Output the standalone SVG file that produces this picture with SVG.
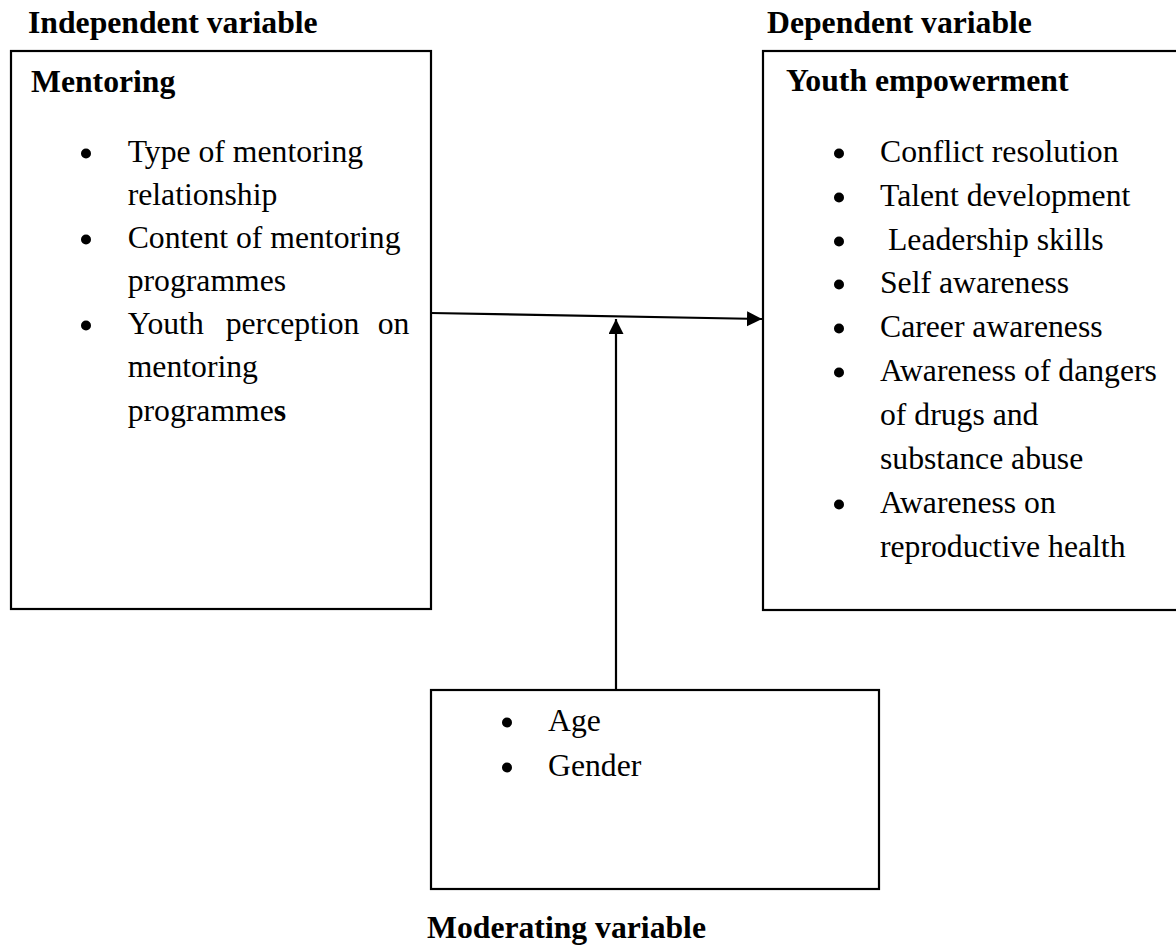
<svg xmlns="http://www.w3.org/2000/svg" width="1176" height="947" viewBox="0 0 1176 947">
<style>
  .t { font-family: "Liberation Serif", "Times New Roman", serif; font-size: 31.7px; fill: #000; }
  .b { font-weight: bold; }
  .box { fill: #fff; stroke: #000; stroke-width: 2.2; }
  .conn { stroke: #000; stroke-width: 2.2; fill: none; }
  .dot { fill: #000; }
</style>
<defs>
  <marker id="arr" markerUnits="userSpaceOnUse" markerWidth="16" markerHeight="16" refX="15" refY="7.5" orient="auto">
    <path d="M0,0 L15,7.5 L0,15 z" fill="#000"/>
  </marker>
</defs>
<rect width="1176" height="947" fill="#fff"/>

<g id="independent">
  <text class="t b" x="28" y="33">Independent variable</text>
  <rect class="box" x="11" y="51" width="420" height="558"/>
  <text class="t b" x="31" y="92">Mentoring</text>
  <circle class="dot" cx="86" cy="153.5" r="5"/>
  <text class="t" x="127.7" y="162">Type of mentoring</text>
  <text class="t" x="127.7" y="205">relationship</text>
  <circle class="dot" cx="86" cy="239.5" r="5"/>
  <text class="t" x="127.7" y="248">Content of mentoring</text>
  <text class="t" x="127.7" y="291">programmes</text>
  <circle class="dot" cx="86" cy="325.5" r="5"/>
  <text class="t" y="334"><tspan x="127.7">Youth</tspan><tspan x="225.7">perception</tspan><tspan x="377.7">on</tspan></text>
  <text class="t" x="127.7" y="377">mentoring</text>
  <text class="t" x="127.7" y="421">programme<tspan class="b">s</tspan></text>
</g>

<g id="dependent">
  <text class="t b" x="767" y="33">Dependent variable</text>
  <rect class="box" x="763" y="51" width="430" height="559"/>
  <text class="t b" x="786" y="91">Youth empowerment</text>
  <circle class="dot" cx="839" cy="153.5" r="5"/>
  <text class="t" x="880" y="162">Conflict resolution</text>
  <circle class="dot" cx="839" cy="197.5" r="5"/>
  <text class="t" x="880" y="206">Talent development</text>
  <circle class="dot" cx="839" cy="241.5" r="5"/>
  <text class="t" x="888" y="250">Leadership skills</text>
  <circle class="dot" cx="839" cy="284.5" r="5"/>
  <text class="t" x="880" y="293">Self awareness</text>
  <circle class="dot" cx="839" cy="328.5" r="5"/>
  <text class="t" x="880" y="337">Career awareness</text>
  <circle class="dot" cx="839" cy="372.5" r="5"/>
  <text class="t" x="880" y="381">Awareness of dangers</text>
  <text class="t" x="880" y="425">of drugs and</text>
  <text class="t" x="880" y="469">substance abuse</text>
  <circle class="dot" cx="839" cy="504.5" r="5"/>
  <text class="t" x="880" y="513">Awareness on</text>
  <text class="t" x="880" y="557">reproductive health</text>
</g>

<g id="moderating">
  <rect class="box" x="431" y="690" width="448" height="199"/>
  <circle class="dot" cx="507" cy="722.5" r="5"/>
  <text class="t" x="548" y="731">Age</text>
  <circle class="dot" cx="507" cy="767.5" r="5"/>
  <text class="t" x="548" y="776">Gender</text>
  <text class="t b" x="427" y="938">Moderating variable</text>
</g>

<g id="connectors">
  <line class="conn" x1="431" y1="313" x2="762" y2="319" marker-end="url(#arr)"/>
  <line class="conn" x1="616" y1="690" x2="616" y2="319" marker-end="url(#arr)"/>
</g>
</svg>
